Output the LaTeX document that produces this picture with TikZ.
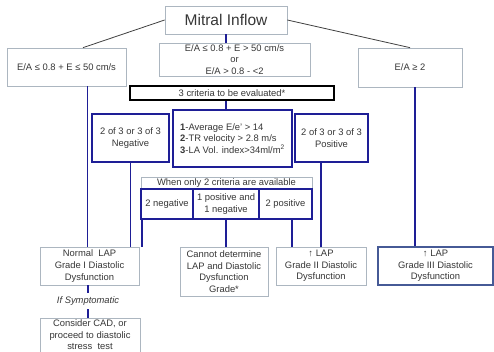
\documentclass[tikz,border=0pt]{standalone}
\usepackage{fontspec}
\setmainfont{Liberation Sans}
\definecolor{navy}{RGB}{30,30,150}
\definecolor{boxgray}{RGB}{172,182,192}
\definecolor{txtgray}{RGB}{55,55,55}
\definecolor{slate}{RGB}{70,90,150}
\tikzset{
  box/.style={draw=boxgray, line width=0.7pt, fill=white, inner sep=0pt, align=center,
    text=txtgray, font=\fontsize{9.4}{11.6}\selectfont},
  bluebox/.style={box, draw=navy, line width=2pt},
  link/.style={draw=navy, line width=1.7pt},
  branch/.style={draw=black!75, line width=0.8pt},
}
\begin{document}
\begin{tikzpicture}[x=1pt,y=-1pt]
\useasboundingbox (0,0) rectangle (494,351);
% top of the tree
\node[box, minimum width=122pt, minimum height=28pt, font=\fontsize{15.5}{18}\selectfont] (mitral) at (226,20) {Mitral Inflow};
\node[box, minimum width=119pt, minimum height=38pt] (left) at (66.5,67) {E/A ≤ 0.8 + E ≤ 50 cm/s};
\node[box, minimum width=151pt, minimum height=33pt] (mid) at (234.5,59.5) {E/A ≤ 0.8 + E > 50 cm/s\\or\\E/A > 0.8 - <2};
\node[box, minimum width=104pt, minimum height=39pt] (ea2) at (410,67.5) {E/A ≥ 2};
\node[box, draw=black, line width=1.6pt, minimum width=204pt, minimum height=14pt] (crit) at (232,93) {3 criteria to be evaluated*};
% criteria
\node[bluebox, align=left, minimum width=119pt, minimum height=57pt] (list) at (232.5,138.5)
  {\textbf{1}-Average E/e' > 14\\\textbf{2}-TR velocity > 2.8 m/s\\\textbf{3}-LA Vol. index>34ml/m\textsuperscript{2}};
\node[bluebox, minimum width=77pt, minimum height=48pt] (neg) at (130.5,138) {2 of 3 or 3 of 3\\Negative};
\node[bluebox, minimum width=73pt, minimum height=48pt] (pos) at (331.5,138) {2 of 3 or 3 of 3\\Positive};
\node[box, minimum width=171pt, minimum height=12pt] (when) at (226.5,183) {When only 2 criteria are available};
\node[bluebox, minimum width=52pt, minimum height=30pt] (twoneg) at (167,204) {2 negative};
\node[bluebox, minimum width=66pt, minimum height=30pt] (mixed) at (226,204) {1 positive and\\1 negative};
\node[bluebox, minimum width=53pt, minimum height=30pt] (twopos) at (285.5,204) {2 positive};
% outcomes
\node[box, minimum width=99pt, minimum height=38pt] (normal) at (89.5,266) {Normal\ \ LAP\\Grade I Diastolic\\Dysfunction};
\node[inner sep=0pt, minimum height=16pt, text=txtgray, font=\fontsize{9.4}{11}\selectfont\itshape] (symp) at (88,301) {If Symptomatic};
\node[box, minimum width=100pt, minimum height=34pt] (cad) at (90,335) {Consider CAD, or\\proceed to diastolic\\stress\ \ test};
\node[box, minimum width=88pt, minimum height=49pt] (cannot) at (224,271.5) {Cannot determine\\LAP and Diastolic\\Dysfunction\\Grade*};
\node[box, minimum width=90pt, minimum height=38pt] (grade2) at (321,266) {↑ LAP\\Grade II Diastolic\\Dysfunction};
\node[box, draw=slate, line width=1.4pt, minimum width=115pt, minimum height=38pt] (grade3) at (435.5,266) {↑ LAP\\Grade III Diastolic\\Dysfunction};
% connectors
\coordinate (leftdrop) at ([xshift=-2pt]normal.north);
\coordinate (negdrop) at ([xshift=2pt]twoneg.south west);
\coordinate (posdrop) at ([xshift=6.5pt]twopos.south);
\coordinate (eadrop) at ([xshift=5pt]ea2.south);
\draw[branch] (mitral.west) -- ([xshift=16.5pt]left.north);
\draw[branch] (mitral.east) -- (ea2.north);
\draw[link] (mitral.south) -- (mitral.south |- mid.north);
\draw[link] (mitral.south |- crit.south) -- (mitral.south |- list.north);
\draw[link] (leftdrop |- left.south) -- (leftdrop);
\draw[link] (neg.south) -- (neg.south |- normal.north);
\draw[link] (negdrop) -- (negdrop |- normal.north);
\draw[link] (mixed.south) -- (mixed.south |- cannot.north);
\draw[link] (posdrop) -- (posdrop |- grade2.north);
\draw[link] (grade2.north |- pos.south) -- (grade2.north);
\draw[link] (eadrop) -- (eadrop |- grade3.north);
\draw[link] (symp.north |- normal.south) -- (symp.north);
\draw[link] (symp.south) -- (symp.south |- cad.north);
\end{tikzpicture}
\end{document}
